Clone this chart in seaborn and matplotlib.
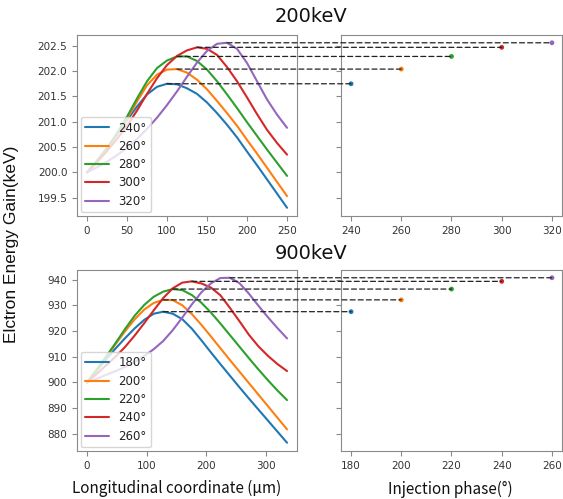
import numpy as np
import pandas as pd
import matplotlib
matplotlib.use("Agg")
import matplotlib.pyplot as plt
from matplotlib.patches import ConnectionPatch
import seaborn as sns

# ---- 200 keV: energy gain along z for each injection phase
x_200 = [0, 12.5, 25, 37.5, 50, 62.5, 75, 87.5, 100, 112.5, 125,
         137.5, 150, 162.5, 175, 187.5, 200, 212.5, 225, 237.5, 250]
gain_200_240 = [200.00, 200.22, 200.46, 200.75, 201.03, 201.30, 201.54, 201.69, 201.75, 201.74, 201.66,
                201.55, 201.38, 201.17, 200.94, 200.69, 200.41, 200.14, 199.86, 199.58, 199.30]
gain_200_260 = [200.00, 200.23, 200.48, 200.76, 201.06, 201.40, 201.72, 201.93, 202.03, 202.04, 201.97,
                201.83, 201.64, 201.41, 201.17, 200.92, 200.64, 200.37, 200.09, 199.81, 199.53]
gain_200_280 = [200.00, 200.23, 200.48, 200.77, 201.10, 201.46, 201.80, 202.06, 202.21, 202.29, 202.29,
                202.20, 202.03, 201.80, 201.54, 201.27, 200.99, 200.72, 200.45, 200.19, 199.93]
gain_200_300 = [200.00, 200.20, 200.42, 200.66, 200.92, 201.22, 201.55, 201.86, 202.12, 202.30, 202.41,
                202.47, 202.44, 202.32, 202.08, 201.80, 201.48, 201.15, 200.84, 200.58, 200.35]
gain_200_320 = [200.00, 200.10, 200.21, 200.34, 200.48, 200.66, 200.86, 201.08, 201.33, 201.60, 201.89,
                202.17, 202.40, 202.54, 202.56, 202.44, 202.16, 201.80, 201.44, 201.14, 200.88]
phases_200 = [240, 260, 280, 300, 320]
curves_200 = [gain_200_240, gain_200_260, gain_200_280, gain_200_300, gain_200_320]

# ---- 900 keV
x_900 = [0, 16, 32, 48, 64, 80, 96, 112, 128, 144, 160,
         176, 192, 208, 224, 240, 256, 272, 288, 304, 320, 336]
gain_900_180 = [900.0, 904.4, 909.0, 913.2, 917.2, 921.0, 924.3, 926.7, 927.5, 926.7, 924.6,
                920.9, 916.4, 911.7, 907.1, 902.6, 898.1, 893.7, 889.4, 885.1, 880.8, 876.5]
gain_900_200 = [900.0, 904.8, 909.8, 914.9, 919.9, 924.5, 928.3, 930.9, 932.1, 932.0, 930.0,
                926.6, 922.4, 917.9, 913.3, 908.7, 904.2, 899.7, 895.2, 890.7, 886.2, 881.7]
gain_900_220 = [900.0, 904.9, 910.0, 915.3, 920.8, 925.9, 930.1, 933.3, 935.3, 936.3, 935.9,
                934.0, 931.0, 927.2, 922.9, 918.4, 913.9, 909.4, 905.0, 900.8, 896.8, 893.1]
gain_900_240 = [900.0, 903.2, 906.6, 910.0, 913.8, 918.2, 923.0, 928.0, 932.8, 936.6, 938.8,
                939.3, 938.5, 936.9, 933.9, 929.0, 923.8, 918.5, 914.0, 910.3, 907.1, 904.4]
gain_900_260 = [900.0, 901.4, 902.9, 904.4, 906.0, 907.9, 910.2, 912.9, 916.1, 920.3, 925.2,
                930.3, 935.0, 938.5, 940.6, 940.7, 938.6, 934.5, 929.8, 925.3, 921.1, 917.1]
phases_900 = [180, 200, 220, 240, 260]
curves_900 = [gain_900_180, gain_900_200, gain_900_220, gain_900_240, gain_900_260]

sns.set_style("ticks", {"axes.edgecolor": "#8a8a8a", "xtick.color": "#8a8a8a",
                        "ytick.color": "#8a8a8a", "text.color": "#222222"})
plt.rcParams["font.family"] = ["DejaVu Sans"]
palette = sns.color_palette("tab10", 5)

fig = plt.figure(figsize=(5.63, 4.99), dpi=100)


def draw_row(bottom, x, curves, phases, title_y, title):
    axl = fig.add_axes([0.1368, bottom, 0.3908, 0.3637])
    axr = fig.add_axes([0.6057, bottom, 0.3925, 0.3637], sharey=axl)
    labels = [f"{p}°" for p in phases]

    rows = []
    for lab, g in zip(labels, curves):
        for xi, gi in zip(x, g):
            rows.append((xi, gi, lab))
    df = pd.DataFrame(rows, columns=["z", "gain", "phase"])
    sns.lineplot(data=df, x="z", y="gain", hue="phase", hue_order=labels,
                 palette=palette, estimator=None, lw=1.5, ax=axl)
    sns.move_legend(axl, "lower left", title=None, fontsize=8.5,
                    borderaxespad=0.3, handlelength=2.0, labelspacing=0.45)

    # peak of each curve -> dot on the phase panel, joined by a dashed line
    pk_x = [x[int(np.argmax(g))] for g in curves]
    pk_y = [max(g) for g in curves]
    dfp = pd.DataFrame({"phase_deg": phases, "peak": pk_y, "phase": labels})
    sns.scatterplot(data=dfp, x="phase_deg", y="peak", hue="phase", hue_order=labels,
                    palette=palette, s=12, edgecolor="none", legend=False, ax=axr)

    for xp, yp, ph in zip(pk_x, pk_y, phases):
        con = ConnectionPatch(xyA=(xp, yp), coordsA=axl.transData,
                              xyB=(ph, yp), coordsB=axr.transData,
                              linestyle=(0, (4, 2.5)), color="#222222", lw=0.9)
        fig.add_artist(con)

    for ax in (axl, axr):
        ax.set_xlabel("")
        ax.set_ylabel("")
        ax.tick_params(labelsize=7.5, labelcolor="#333333", length=3.5)
    axr.tick_params(labelleft=False)

    fig.text(0.552, title_y, title, ha="center", va="center", fontsize=14, color="#111111")


draw_row(0.5671, x_200, curves_200, phases_200, 0.966, "200keV")
draw_row(0.0962, x_900, curves_900, phases_900, 0.491, "900keV")

fig.text(0.0213, 0.511, "Elctron Energy Gain(keV)", rotation=90, ha="center", va="center",
         fontsize=12.5, family=["Liberation Sans", "DejaVu Sans"], color="#111111")
fig.text(0.314, 0.022, "Longitudinal coordinate (μm)", ha="center", va="center",
         fontsize=11, family=["Noto Sans CJK JP", "DejaVu Sans"], color="#111111")
fig.text(0.799, 0.020, "Injection phase(°)", ha="center", va="center",
         fontsize=11, family=["Noto Sans CJK JP", "DejaVu Sans"], color="#111111")

fig.savefig("out.png", dpi=100)
